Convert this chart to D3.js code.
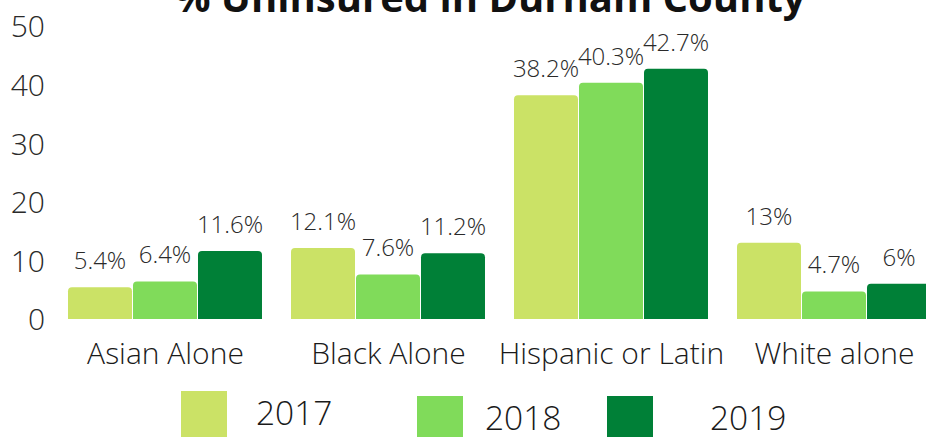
<!DOCTYPE html>
<html><head><meta charset="utf-8">
<script src="https://cdn.jsdelivr.net/npm/d3@7"></script>
<style>
body{margin:0;background:#fff;}
text{font-family:"Open Sans",sans-serif;}
</style></head>
<body><svg id="c" width="926" height="437"></svg>
<script>
const title = "% Uninsured in Durham County";
const categories = ["Asian Alone", "Black Alone", "Hispanic or Latin", "White alone"];
const years = ["2017", "2018", "2019"];
const values2017 = [5.4, 12.1, 38.2, 13];
const values2018 = [6.4, 7.6, 40.3, 4.7];
const values2019 = [11.6, 11.2, 42.7, 6];
const labels2017 = ["5.4%", "12.1%", "38.2%", "13%"];
const labels2018 = ["6.4%", "7.6%", "40.3%", "4.7%"];
const labels2019 = ["11.6%", "11.2%", "42.7%", "6%"];
const yTicks = [0, 10, 20, 30, 40, 50];
const colors = ["#cbe266", "#80db5a", "#008037"];

const series = [values2017, values2018, values2019];
const seriesLabels = [labels2017, labels2018, labels2019];

const svg = d3.select("#c");
const y = d3.scaleLinear().domain([0, 50]).range([319, 26]);
const x0 = d3.scaleBand().domain(categories).range([54, 946]).paddingInner(0.1256).paddingOuter(0.0628);
const x1 = d3.scaleBand().domain(years).range([0, x0.bandwidth()]).padding(0);

// title
svg.append("text").attr("x", 490).attr("y", 12).attr("text-anchor", "middle")
  .attr("font-size", 40).attr("font-weight", 700).attr("fill", "#111").text(title);

// y axis
const yAxis = d3.axisLeft(y).tickValues(yTicks).tickSize(0).tickPadding(0);
const ga = svg.append("g").attr("transform", "translate(45,0)").call(yAxis);
ga.select(".domain").remove();
ga.selectAll("text").attr("font-size", 30).attr("font-weight", 300).attr("fill", "#2a2a2a")
  .attr("font-family", "Open Sans").attr("dy", "0.36em");

function topRounded(xp, yp, w, h, r) {
  r = Math.min(r, h, w / 2);
  return `M${xp},${yp + h}V${yp + r}Q${xp},${yp} ${xp + r},${yp}H${xp + w - r}Q${xp + w},${yp} ${xp + w},${yp + r}V${yp + h}Z`;
}

categories.forEach((cat, ci) => {
  const g = svg.append("g").attr("transform", `translate(${x0(cat)},0)`);
  years.forEach((yr, si) => {
    const v = series[si][ci];
    const bx = x1(yr), bw = x1.bandwidth() - 1;
    g.append("path").attr("d", topRounded(bx, y(v), bw, y(0) - y(v), 4)).attr("fill", colors[si]);
    g.append("text").attr("x", bx + bw / 2).attr("y", y(v) - 18).attr("text-anchor", "middle")
      .attr("font-size", 24).attr("font-weight", 300).attr("fill", "#2a2a2a").text(seriesLabels[si][ci]);
  });
  svg.append("text").attr("x", x0(cat) + x0.bandwidth() / 2).attr("y", 364).attr("text-anchor", "middle")
    .attr("font-size", 30).attr("font-weight", 300).attr("fill", "#1a1a1a").text(cat);
});

// legend
const legendPos = [{sx:181, sy:391, tx:256, ty:425}, {sx:417, sy:396, tx:485, ty:430}, {sx:607, sy:396, tx:710, ty:430}];
years.forEach((yr, i) => {
  const p = legendPos[i];
  svg.append("rect").attr("x", p.sx).attr("y", p.sy).attr("width", 46).attr("height", 46).attr("fill", colors[i]);
  svg.append("text").attr("x", p.tx).attr("y", p.ty).attr("font-size", 33.5).attr("font-weight", 300)
    .attr("fill", "#1a1a1a").text(yr);
});
</script></body></html>
